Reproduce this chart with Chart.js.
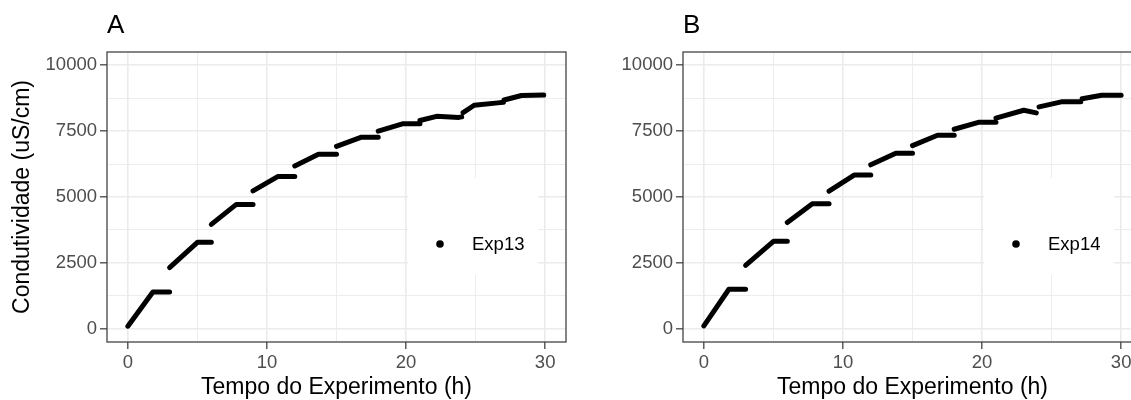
<!DOCTYPE html>
<html>
<head>
<meta charset="utf-8">
<script src="https://cdn.jsdelivr.net/npm/chart.js@4.4.0/dist/chart.umd.min.js"></script>
<style>
  html, body { margin: 0; padding: 0; background: #fff; overflow: hidden; }
  #wrap { position: relative; width: 1131px; height: 400px; overflow: hidden; }
  .painel { position: absolute; top: 0; width: 576px; height: 400px; }
</style>
</head>
<body>
<div id="wrap">
  <div class="painel" style="left:0"><canvas id="chartA" width="576" height="400"></canvas></div>
  <div class="painel" style="left:576px"><canvas id="chartB" width="576" height="400"></canvas></div>
</div>
<script>
// Exp13 - painel A (null = quebra entre as etapas)
var tempoA = [0, 1.8, 3, 3, 3, 5, 6, 6, 6, 7.8, 9, 9, 9, 10.8, 12, 12, 12, 13.7, 15, 15, 15, 16.8, 18, 18, 18, 19.8, 21, 21, 21, 22.2, 23.8, 24, 24, 24.1, 24.9, 26.6, 27, 27, 27.05, 28.3, 29.9];
var condA = [100, 1400, 1400, null, 2320, 3280, 3280, null, 3960, 4720, 4720, null, 5230, 5780, 5780, null, 6180, 6620, 6620, null, 6920, 7270, 7270, null, 7500, 7780, 7780, null, 7900, 8060, 8020, 8040, null, 8200, 8480, 8570, 8590, null, 8680, 8850, 8870];

// Exp14 - painel B
var tempoB = [0, 1.8, 3, 3, 3, 5, 6, 6, 6, 7.8, 9, 9, 9, 10.8, 12, 12, 12, 13.8, 15, 15, 15, 16.8, 18, 18, 18, 19.8, 21, 21, 21, 23, 23.9, 24, 24.1, 25.7, 27.1, 27.1, 27.2, 28.6, 30];
var condB = [110, 1500, 1500, null, 2410, 3320, 3320, null, 4030, 4740, 4740, null, 5220, 5830, 5830, null, 6220, 6660, 6660, null, 6950, 7340, 7340, null, 7570, 7840, 7840, null, 7990, 8290, 8190, null, 8420, 8610, 8610, null, 8730, 8860, 8860];

// ticks (principais com rotulo, secundarios so com grade)
var xMajor = [0, 10, 20, 30];
var xTicks = [0, 5, 10, 15, 20, 25, 30];
var yMajor = [0, 2500, 5000, 7500, 10000];
var yTicks = [0, 1250, 2500, 3750, 5000, 6250, 7500, 8750, 10000];

var fonte = '"Liberation Sans", Arial, sans-serif';
Chart.defaults.font.family = fonte;

// borda do painel, legenda interna e letra do painel
var painelPlugin = {
    id: 'painel',
    beforeDatasetsDraw: function(chart, args, opts) {
        var a = chart.chartArea, ctx = chart.ctx;
        ctx.save();
        ctx.fillStyle = '#fff';
        ctx.fillRect(a.left + 301, a.top + 126, 130, 97);
        ctx.restore();
    },
    afterDatasetsDraw: function(chart, args, opts) {
        var a = chart.chartArea, ctx = chart.ctx;
        ctx.save();
        ctx.strokeStyle = '#444';
        ctx.lineWidth = 1.3;
        ctx.strokeRect(a.left, a.top, a.right - a.left, a.bottom - a.top);

        ctx.fillStyle = '#000';
        ctx.beginPath();
        ctx.arc(a.left + 333, a.top + 192, 3.8, 0, 2 * Math.PI);
        ctx.fill();
        ctx.font = '18.5px ' + fonte;
        ctx.textBaseline = 'middle';
        ctx.fillText(opts.legenda, a.left + 365, a.top + 193);

        ctx.font = '26px ' + fonte;
        ctx.textBaseline = 'alphabetic';
        ctx.fillText(opts.letra, a.left, 33);
        ctx.restore();
    }
};

function eixoGrade(major) {
    return {
        color: '#EBEBEB',
        lineWidth: function(c) { return major.indexOf(c.tick.value) >= 0 ? 1.6 : 0.9; },
        tickColor: function(c) { return major.indexOf(c.tick.value) >= 0 ? '#444' : 'rgba(0,0,0,0)'; },
        tickWidth: 1.3,
        tickLength: 7
    };
}

function criaGrafico(id, tempo, cond, letra, legenda, comTituloY) {
    var pontos = tempo.map(function(t, i) { return { x: t, y: cond[i] }; });
    return new Chart(document.getElementById(id), {
        type: 'line',
        data: {
            datasets: [{
                data: pontos,
                borderColor: '#000',
                borderWidth: 5,
                borderCapStyle: 'round',
                borderJoinStyle: 'round',
                pointRadius: 0,
                spanGaps: false,
                tension: 0
            }]
        },
        plugins: [painelPlugin],
        options: {
            responsive: false,
            animation: false,
            layout: { padding: { top: 52, right: 10, left: 0, bottom: 0 } },
            plugins: {
                legend: { display: false },
                tooltip: { enabled: false },
                painel: { letra: letra, legenda: legenda }
            },
            scales: {
                x: {
                    type: 'linear',
                    min: -1.5,
                    max: 31.5,
                    afterBuildTicks: function(s) { s.ticks = xTicks.map(function(v) { return { value: v }; }); },
                    afterFit: function(s) { s.height = 58; },
                    grid: eixoGrade(xMajor),
                    border: { display: false },
                    ticks: {
                        color: '#4D4D4D',
                        font: { size: 18.5 },
                        padding: 3,
                        maxRotation: 0,
                        autoSkip: false,
                        callback: function(v) { return xMajor.indexOf(v) >= 0 ? String(v) : ''; }
                    },
                    title: {
                        display: true,
                        text: 'Tempo do Experimento (h)',
                        color: '#000',
                        font: { size: 23, lineHeight: 1 },
                        padding: { top: 0, bottom: 1 }
                    }
                },
                y: {
                    type: 'linear',
                    min: -500,
                    max: 10500,
                    afterBuildTicks: function(s) { s.ticks = yTicks.map(function(v) { return { value: v }; }); },
                    afterFit: function(s) { s.width = 107; },
                    grid: eixoGrade(yMajor),
                    border: { display: false },
                    ticks: {
                        color: '#4D4D4D',
                        font: { size: 18.5 },
                        padding: 3,
                        autoSkip: false,
                        callback: function(v) { return yMajor.indexOf(v) >= 0 ? String(v) : ''; }
                    },
                    title: {
                        display: comTituloY,
                        text: 'Condutividade (uS/cm)',
                        color: '#000',
                        font: { size: 23, lineHeight: 1 },
                        padding: { top: 11.5, bottom: 0 }
                    }
                }
            }
        }
    });
}

var chartA = criaGrafico('chartA', tempoA, condA, 'A', 'Exp13', true);
var chartB = criaGrafico('chartB', tempoB, condB, 'B', 'Exp14', false);
</script>
</body>
</html>
